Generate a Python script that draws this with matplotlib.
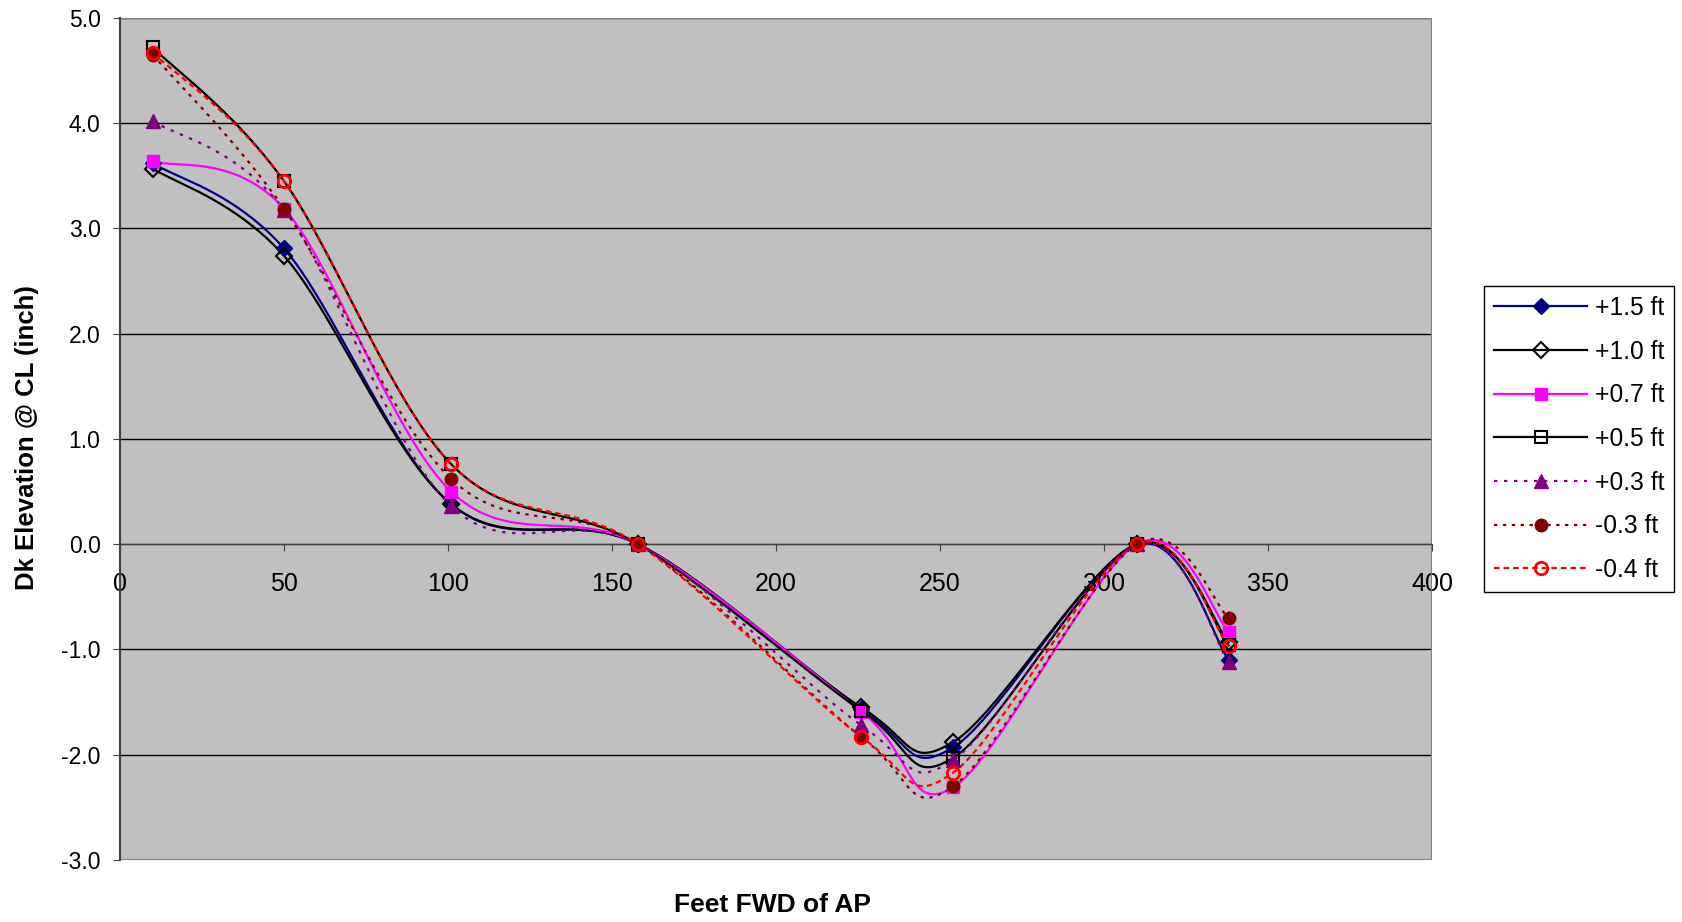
import numpy as np
import matplotlib.pyplot as plt
from matplotlib.patches import Rectangle

# station positions (feet forward of AP)
x = [10, 50, 101, 158, 226, 254, 310, 338]

# deck elevation at centerline (inch) for each case
y_15 = [3.62, 2.81, 0.38, 0.0, -1.57, -1.93, 0.0, -1.10]
y_10 = [3.57, 2.74, 0.38, 0.0, -1.55, -1.88, 0.0, -0.93]
y_07 = [3.64, 3.19, 0.50, 0.0, -1.59, -2.31, 0.0, -0.83]
y_05 = [4.72, 3.45, 0.76, 0.0, -1.58, -2.03, 0.0, -0.96]
y_03 = [4.02, 3.18, 0.36, 0.0, -1.72, -2.05, 0.0, -1.12]
y_m03 = [4.65, 3.19, 0.62, 0.0, -1.83, -2.30, 0.0, -0.70]
y_m04 = [4.67, 3.45, 0.76, 0.0, -1.83, -2.17, 0.0, -0.97]

labels = ['+1.5 ft', '+1.0 ft', '+0.7 ft', '+0.5 ft', '+0.3 ft', '-0.3 ft', '-0.4 ft']


def smooth(xs, ys, n=40):
    # Excel-like smoothed line: Catmull-Rom bezier through the points
    xs = np.asarray(xs, float)
    ys = np.asarray(ys, float)
    px = np.concatenate([[xs[0]], xs, [xs[-1]]])
    py = np.concatenate([[ys[0]], ys, [ys[-1]]])
    t = np.linspace(0, 1, n)
    ox, oy = [], []
    for i in range(1, len(px) - 2):
        p0x, p1x = px[i], px[i + 1]
        p0y, p1y = py[i], py[i + 1]
        c1x = p0x + (px[i + 1] - px[i - 1]) / 6
        c1y = p0y + (py[i + 1] - py[i - 1]) / 6
        c2x = p1x - (px[i + 2] - px[i]) / 6
        c2y = p1y - (py[i + 2] - py[i]) / 6
        b0 = (1 - t) ** 3
        b1 = 3 * (1 - t) ** 2 * t
        b2 = 3 * (1 - t) * t ** 2
        b3 = t ** 3
        ox.append(b0 * p0x + b1 * c1x + b2 * c2x + b3 * p1x)
        oy.append(b0 * p0y + b1 * c1y + b2 * c2y + b3 * p1y)
    return np.concatenate(ox), np.concatenate(oy)


plt.rcParams['font.family'] = ['Liberation Sans', 'DejaVu Sans']

fig = plt.figure(figsize=(16.82, 9.22), dpi=100)
ax = fig.add_axes([120 / 1682, 1 - 860 / 922, 1312 / 1682, 842 / 922])
ax.set_facecolor('#C0C0C0')

series = [
    (y_15, dict(color='#000080', ls='-', marker='D', mfc='#000080', mec='#000080', ms=8)),
    (y_10, dict(color='black', ls='-', marker='D', mfc='none', mec='black', ms=8, mew=1.5)),
    (y_07, dict(color='#FF00FF', ls='-', marker='s', mfc='#FF00FF', mec='#FF00FF', ms=9)),
    (y_05, dict(color='black', ls='-', marker='s', mfc='none', mec='black', ms=9, mew=1.5)),
    (y_03, dict(color='#800080', ls=(0, (1.5, 3)), marker='^', mfc='#800080', mec='#800080', ms=10)),
    (y_m03, dict(color='#800000', ls=(0, (1.5, 2.5)), marker='o', mfc='#800000', mec='#800000', ms=9)),
    (y_m04, dict(color='#FF0000', ls=(0, (2.5, 1.8)), marker='o', mfc='none', mec='#FF0000', ms=9, mew=2)),
]

handles = []
for (ys, st), lab in zip(series, labels):
    sx, sy = smooth(x, ys)
    ax.plot(sx, sy, color=st['color'], ls=st['ls'], lw=1.6, zorder=3)
    ax.plot(x, ys, ls='none', marker=st['marker'], mfc=st['mfc'], mec=st['mec'],
            ms=st['ms'], mew=st.get('mew', 1), zorder=4)
    h, = ax.plot([], [], color=st['color'], ls=st['ls'], lw=1.6, marker=st['marker'],
                 mfc=st['mfc'], mec=st['mec'], ms=st['ms'], mew=st.get('mew', 1))
    handles.append(h)

ax.set_xlim(0, 400)
ax.set_ylim(-3, 5)
ax.set_xticks(np.arange(0, 401, 50))
ax.set_yticks(np.arange(-3, 5.1, 1))
ax.set_yticklabels([f'{v:.1f}' for v in np.arange(-3, 5.1, 1)])
ax.yaxis.grid(True, color='black', lw=1)
ax.set_axisbelow(True)

# x axis crosses at zero
ax.spines['bottom'].set_position(('data', 0))
ax.spines['bottom'].set_color('#404040')
ax.spines['left'].set_color('#404040')
ax.spines['left'].set_linewidth(1.5)
ax.spines['top'].set_visible(False)
ax.spines['right'].set_visible(False)
ax.add_patch(Rectangle((0, 0), 1, 1, transform=ax.transAxes, fill=False,
                       ec='#808080', lw=1.5, zorder=1))

ax.tick_params(axis='x', direction='out', length=5, pad=15, labelsize=18, color='#404040')
ax.tick_params(axis='y', direction='out', length=5, pad=9, labelsize=16.5, color='#404040')

fig.text(773 / 1682, 1 - 905 / 922, 'Feet FWD of AP', ha='center', va='center',
         fontsize=19, fontweight='bold')
fig.text(27 / 1682, 1 - 438 / 922, 'Dk Elevation @ CL (inch)', ha='center', va='center',
         rotation=90, fontsize=18.5, fontweight='bold',
         family=['Liberation Sans Narrow', 'Liberation Sans'])

leg = fig.legend(handles=handles, labels=labels, loc='upper left',
                 bbox_to_anchor=(1484 / 1682, 1 - 286 / 922), borderaxespad=0,
                 fontsize=17.7, handlelength=3.8, labelspacing=0.8, fancybox=False,
                 framealpha=1, edgecolor='black', borderpad=0.4, handletextpad=0.3)
leg.get_frame().set_linewidth(1)

fig.savefig('out.png', dpi=100)
